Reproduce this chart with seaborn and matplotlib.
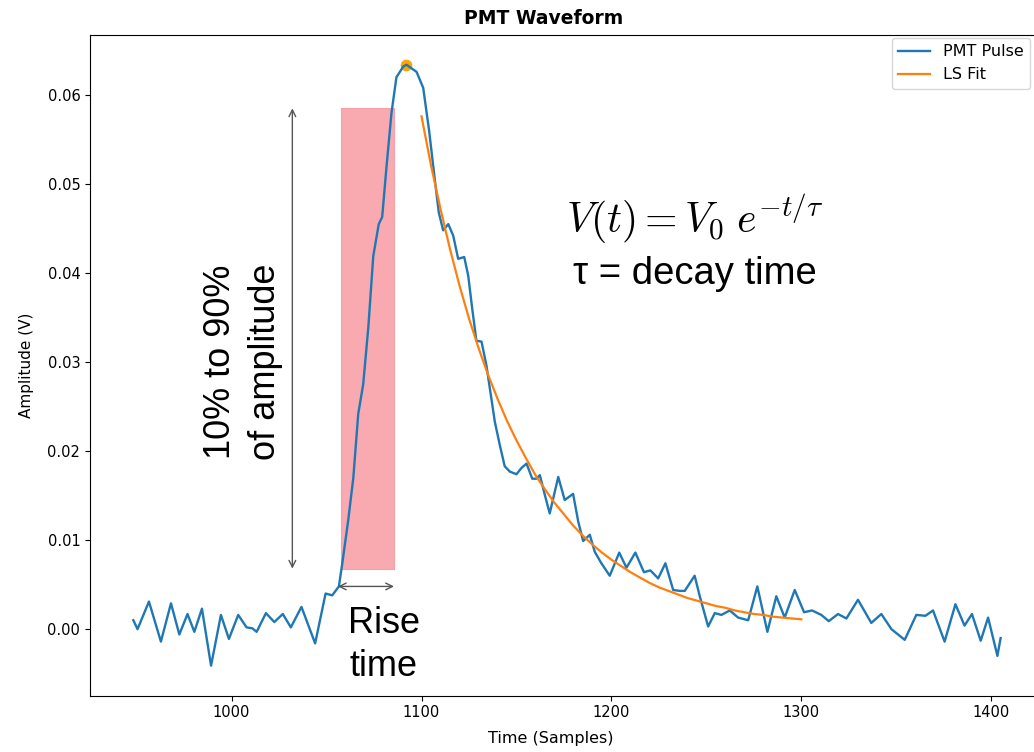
import numpy as np
import pandas as pd
import matplotlib
matplotlib.use("Agg")
import matplotlib.pyplot as plt
import seaborn as sns
from matplotlib.patches import Rectangle

# ---------------- data ----------------
time_samples = [
    948.3, 950.5, 956.5, 962.8, 968.1, 972.5, 976.8, 980.4, 984.4, 989.2,
    994.4, 998.6, 1003.5, 1007.9, 1010.9, 1013.2, 1018.1, 1022.5, 1027.0, 1031.2,
    1036.8, 1044.0, 1049.5, 1053.0, 1056.5, 1058.3, 1061.4, 1064.1, 1066.7, 1069.3,
    1072.0, 1074.6, 1077.5, 1079.3, 1081.6, 1084.2, 1086.8, 1090.4, 1092.1, 1097.4,
    1100.9, 1104.0, 1107.0, 1109.1, 1111.4, 1114.1, 1116.7, 1119.3, 1122.5, 1124.6,
    1126.7, 1128.9, 1131.6, 1134.2, 1136.5, 1138.6, 1141.2, 1143.8, 1146.5, 1150.0,
    1152.6, 1155.3, 1158.3, 1160.5, 1162.3, 1164.9, 1167.5, 1172.0, 1175.4, 1179.8,
    1182.5, 1185.1, 1188.6, 1191.2, 1194.7, 1199.1, 1204.1, 1207.9, 1212.6, 1217.1,
    1220.5, 1224.6, 1228.4, 1232.5, 1235.9, 1238.6, 1243.8, 1246.5, 1250.9, 1254.4,
    1257.9, 1262.3, 1266.7, 1272.0, 1276.8, 1282.1, 1286.8, 1291.2, 1296.5, 1301.4,
    1305.6, 1310.5, 1314.4, 1319.3, 1323.7, 1329.8, 1336.8, 1342.1, 1347.4, 1354.4,
    1360.5, 1365.3, 1369.3, 1375.4, 1381.1, 1385.9, 1389.8, 1394.4, 1398.3, 1403.2,
    1404.9,
]
pmt_pulse = [
    0.0010, 0.0000, 0.0031, -0.0014, 0.0029, -0.0006, 0.0017, -0.0003, 0.0023, -0.0041,
    0.0016, -0.0011, 0.0016, 0.0002, 0.0001, -0.0003, 0.0018, 0.0008, 0.0017, 0.0002,
    0.0025, -0.0016, 0.0040, 0.0038, 0.0048, 0.0074, 0.0122, 0.0170, 0.0242, 0.0275,
    0.0339, 0.0419, 0.0455, 0.0463, 0.0520, 0.0580, 0.0620, 0.0632, 0.0634, 0.0626,
    0.0608, 0.0560, 0.0505, 0.0468, 0.0448, 0.0455, 0.0442, 0.0416, 0.0418, 0.0397,
    0.0360, 0.0324, 0.0323, 0.0296, 0.0263, 0.0233, 0.0207, 0.0183, 0.0177, 0.0174,
    0.0181, 0.0186, 0.0169, 0.0169, 0.0173, 0.0151, 0.0130, 0.0171, 0.0145, 0.0152,
    0.0121, 0.0099, 0.0106, 0.0087, 0.0074, 0.0060, 0.0086, 0.0069, 0.0086, 0.0064,
    0.0066, 0.0057, 0.0074, 0.0044, 0.0043, 0.0043, 0.0060, 0.0037, 0.0003, 0.0018,
    0.0016, 0.0021, 0.0013, 0.0010, 0.0048, -0.0003, 0.0037, 0.0013, 0.0044, 0.0019,
    0.0021, 0.0016, 0.0009, 0.0017, 0.0012, 0.0033, 0.0007, 0.0017, 0.0000, -0.0012,
    0.0016, 0.0015, 0.0021, -0.0014, 0.0028, 0.0004, 0.0017, -0.0013, 0.0013, -0.0030,
    -0.0010,
]

fit_time = [
    1100, 1105, 1110, 1115, 1120, 1125, 1130, 1135, 1140, 1145,
    1150, 1155, 1160, 1165, 1170, 1175, 1180, 1185, 1190, 1195,
    1200, 1205, 1210, 1215, 1220, 1225, 1230, 1235, 1240, 1245,
    1250, 1255, 1260, 1265, 1270, 1275, 1280, 1285, 1290, 1295, 1300,
]
fit_values = [
    0.0576, 0.0521, 0.0472, 0.0427, 0.0386, 0.0349, 0.0316, 0.0286, 0.0259, 0.0234,
    0.0212, 0.0192, 0.0173, 0.0157, 0.0142, 0.0129, 0.0116, 0.0105, 0.0095, 0.0086,
    0.0078, 0.0071, 0.0064, 0.0058, 0.0052, 0.0047, 0.0043, 0.0039, 0.0035, 0.0032,
    0.0029, 0.0026, 0.0024, 0.0021, 0.0019, 0.0017, 0.0016, 0.0014, 0.0013, 0.0012,
    0.0011,
]

# annotation values
rise_start, rise_end = 1057.5, 1085.5
level_low, level_high = 0.0068, 0.0585
amp_arrow_x = 1032
rise_arrow_y = 0.0048

title_text = "PMT Waveform"
xlabel_text = "Time (Samples)"
ylabel_text = "Amplitude (V)"
series_labels = ["PMT Pulse", "LS Fit"]

# ---------------- figure ----------------
plt.rcParams["mathtext.fontset"] = "cm"
plt.rcParams["font.size"] = 10.5

fig = plt.figure(figsize=(10.34, 7.52), dpi=100)
ax = fig.add_axes([90 / 1034, 56.3 / 752, 954 / 1034, 661 / 752])

pulse_df = pd.DataFrame({"Time": time_samples, "Amplitude": pmt_pulse})
fit_df = pd.DataFrame({"Time": fit_time, "Amplitude": fit_values})

# rise-time box
ax.add_patch(Rectangle((rise_start, level_low), rise_end - rise_start,
                       level_high - level_low, facecolor="#f9aab0",
                       edgecolor="#f3a2a8", lw=0.8, zorder=0.5))

sns.lineplot(data=pulse_df, x="Time", y="Amplitude", ax=ax, color="#1f77b4",
             lw=1.7, label=series_labels[0], estimator=None, sort=False,
             solid_joinstyle="round")
sns.lineplot(data=fit_df, x="Time", y="Amplitude", ax=ax, color="#ff7f0e",
             lw=1.6, label=series_labels[1], estimator=None, sort=False)

peak_i = int(np.argmax(pmt_pulse))
ax.scatter([time_samples[peak_i]], [pmt_pulse[peak_i]], color="orange", s=55,
           zorder=1.5)

ax.set_title(title_text, fontsize=13.5, fontweight="bold", x=0.476, pad=8)
ax.set_xlabel(xlabel_text, fontsize=11.5)
ax.set_ylabel(ylabel_text, fontsize=11)
ax.xaxis.set_label_coords(0.483, -0.054)
ax.yaxis.set_label_coords(-0.059, 0.5)
ax.tick_params(labelsize=10.5)
ax.legend(loc="upper right", fontsize=11.5,
          bbox_to_anchor=(1030 / 1034, 1 - 38 / 752),
          bbox_transform=fig.transFigure, borderaxespad=0)

# arrows
arrow_kw = dict(arrowstyle="<->", color="#555555", lw=1.0,
                shrinkA=0, shrinkB=0, mutation_scale=12)
ax.annotate("", xy=(amp_arrow_x, level_high), xytext=(amp_arrow_x, level_low),
            arrowprops=arrow_kw)
ax.annotate("", xy=(rise_start - 1.5, rise_arrow_y), xytext=(rise_end, rise_arrow_y),
            arrowprops=arrow_kw)

ann_font = ["Liberation Sans", "DejaVu Sans"]
ax.text(1006.0, 0.0300, "10% to 90%\nof amplitude", rotation=90, ha="center",
        va="center", multialignment="center", fontsize=26, family=ann_font,
        linespacing=1.4)
ax.text(1080, -0.0018, "Rise\ntime", ha="center", va="center",
        multialignment="center", fontsize=26, family=ann_font, linespacing=1.3)
ax.text(1244, 0.0460, r"$V(t) = V_0\; e^{-t/\tau}$", ha="center", va="center",
        fontsize=30)
ax.text(1244, 0.0399, "τ = decay time", ha="center", va="center",
        fontsize=27.5, family=ann_font)

fig.savefig("out.png", dpi=100)
